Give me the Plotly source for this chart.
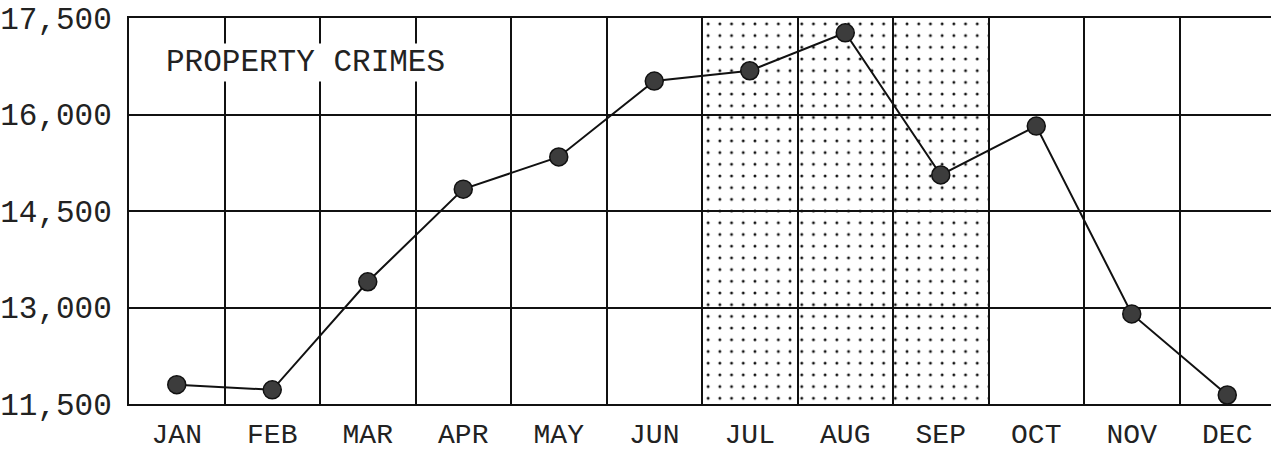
import plotly.graph_objects as go

months = ["JAN", "FEB", "MAR", "APR", "MAY", "JUN", "JUL", "AUG", "SEP", "OCT", "NOV", "DEC"]
property_crimes = [11800, 11720, 13400, 14840, 15340, 16520, 16680, 17270, 15060, 15820, 12900, 11640]
shaded_months = ["JUL", "AUG", "SEP"]
y_ticks = [11500, 13000, 14500, 16000, 17500]
y_tick_labels = ["11,500", "13,000", "14,500", "16,000", "17,500"]
chart_label = "PROPERTY CRIMES"

FONT = "Liberation Mono"
FS = 31
TXT = "#222222"
x_idx = list(range(len(months)))
shade_idx = [months.index(m) for m in shaded_months]
y_min, y_max = y_ticks[0], y_ticks[-1]

fig = go.Figure()

# stippled summer columns
fig.add_trace(go.Bar(
    x=shade_idx,
    y=[y_max - y_min] * len(shade_idx),
    base=[y_min] * len(shade_idx),
    width=1,
    marker=dict(
        color="rgba(0,0,0,0)",
        line=dict(width=0),
        pattern=dict(shape=".", fgcolor="#111111", bgcolor="rgba(0,0,0,0)",
                     size=11.7, solidity=0.05, fillmode="replace"),
    ),
    hoverinfo="skip",
    showlegend=False,
))

fig.add_trace(go.Scatter(
    x=x_idx,
    y=property_crimes,
    mode="lines+markers",
    line=dict(color="#111111", width=2),
    marker=dict(size=18, color="#3c3c3c", line=dict(color="#111111", width=1.5)),
    showlegend=False,
))

fig.add_annotation(
    x=1.35, y=16816, xref="x", yref="y",
    text=chart_label, showarrow=False,
    font=dict(family=FONT, size=FS, color=TXT),
    bgcolor="white", borderpad=1,
)

fig.update_layout(
    width=1271, height=452,
    margin=dict(l=129, r=0, t=18, b=48),
    paper_bgcolor="white",
    plot_bgcolor="white",
    bargap=0,
    font=dict(family=FONT, size=FS, color=TXT),
    xaxis=dict(
        range=[-0.5, 11.458], automargin=False,
        tickmode="array", tickvals=x_idx, ticktext=months,
        showgrid=False, zeroline=False,
        showline=True, linecolor="#111111", linewidth=2, mirror=True,
        ticks="", ticklabelstandoff=3, ticklabeloverflow="allow",
        minor=dict(tick0=-0.5, dtick=1, showgrid=True, gridcolor="#111111", gridwidth=2, ticks=""),
        tickfont=dict(family=FONT, size=28, color=TXT),
    ),
    yaxis=dict(
        range=[y_min, y_max], automargin=False,
        tickmode="array", tickvals=y_ticks, ticktext=y_tick_labels,
        showgrid=True, gridcolor="#111111", gridwidth=2, zeroline=False,
        showline=True, linecolor="#111111", linewidth=2,
        ticks="", ticklabelstandoff=9, ticklabeloverflow="allow",
        tickfont=dict(family=FONT, size=FS, color=TXT),
    ),
)

# remove the browser's default 8px body margin so the figure sits at the page corner
fig.write_html(
    "out.html",
    config={"displayModeBar": False},
    post_script="document.body.style.margin='0px';",
)
